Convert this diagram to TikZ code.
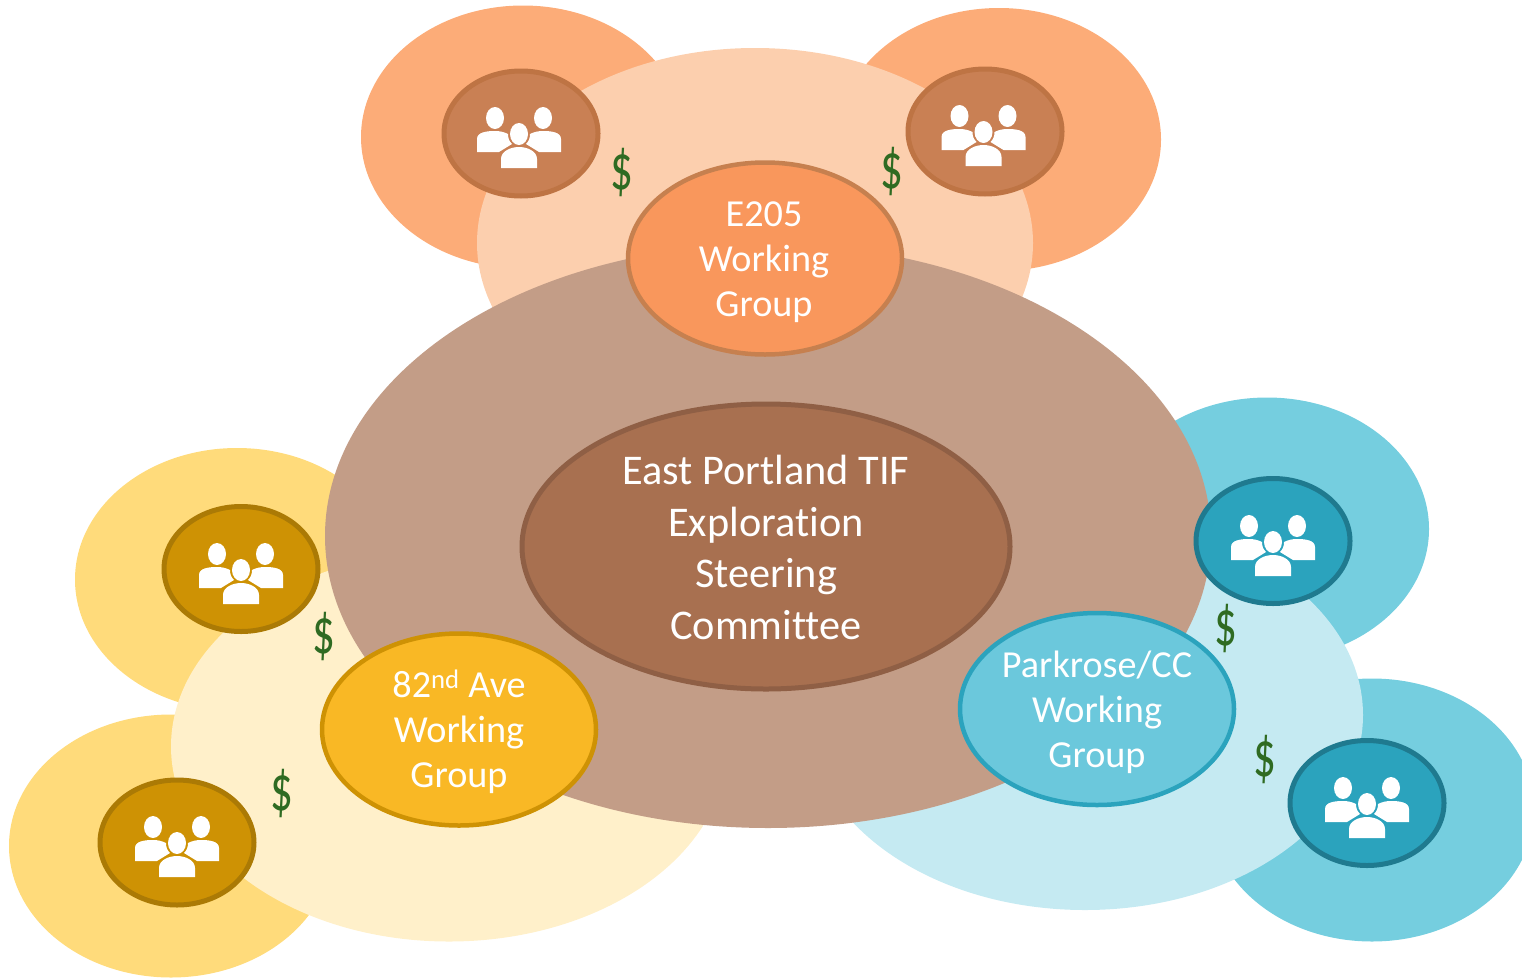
\documentclass[tikz,border=0pt]{standalone}
\usepackage{fontspec}
\usepackage{graphicx}
\setmainfont[Ligatures=NoCommon]{Carlito}
\usetikzlibrary{shapes.geometric}
\definecolor{orangeL}{HTML}{FCAC78}
\definecolor{orangeP}{HTML}{FCCFAE}
\definecolor{brownB}{HTML}{C39D87}
\definecolor{brownC}{HTML}{A87050}
\definecolor{brownD}{HTML}{8F5F45}
\definecolor{orangeM}{HTML}{F9975C}
\definecolor{orangeD}{HTML}{C6804F}
\definecolor{orangeS}{HTML}{C98054}
\definecolor{orangeT}{HTML}{BE7444}
\definecolor{yellowL}{HTML}{FFDB7B}
\definecolor{yellowP}{HTML}{FFF0CA}
\definecolor{yellowM}{HTML}{F9B825}
\definecolor{yellowD}{HTML}{CE9204}
\definecolor{yellowT}{HTML}{AB7A05}
\definecolor{blueL}{HTML}{75CEDF}
\definecolor{blueP}{HTML}{C5EAF2}
\definecolor{blueM}{HTML}{6BC8DC}
\definecolor{blueD}{HTML}{2BA3BD}
\definecolor{blueT}{HTML}{1F7A8F}
\definecolor{dollarc}{HTML}{2F6B22}
\newcommand{\bigdollar}{\scalebox{0.98}[1.42]{\$}}
\tikzset{
  x=1pt,y=-1pt,
  ell/.style={ellipse,inner sep=0pt,outer sep=0pt},
  lobe/.style={ell,minimum width=324pt,minimum height=263pt},
  halo/.style={ell,minimum width=556pt,minimum height=390pt},
  group/.style={ell,line width=4.5pt,minimum width=274pt,minimum height=192pt},
  grouptext/.style={inner sep=0pt,align=center,text=white,font=\fontsize{38.2}{45}\selectfont},
  coretext/.style={inner sep=0pt,align=center,text=white,font=\fontsize{42.3}{51.5}\selectfont},
  team/.style={ell,line width=5pt,minimum width=154pt,minimum height=125pt},
  money/.style={inner sep=0pt,text=dollarc,font=\fontsize{46}{46}\selectfont},
  people/.pic={
    \fill[white] (-26,-15) ellipse [x radius=9,y radius=11];
    \fill[white] (22,-15) ellipse [x radius=9,y radius=11];
    \fill[white] (-2,1) ellipse [x radius=9,y radius=11];
    \fill[white] (-44,19) -- (-44,6) .. controls (-44,-1) and (-34,-2) .. (-26,-2)
      .. controls (-21,-2) and (-17,-1) .. (-13,1) .. controls (-13,5) and (-12,8) .. (-9,11) -- (-22,19) -- cycle;
    \fill[white] (40,19) -- (40,6) .. controls (40,-1) and (30,-2) .. (22,-2)
      .. controls (17,-2) and (13,-1) .. (9,1) .. controls (9,5) and (8,8) .. (5,11) -- (18,19) -- cycle;
    \fill[white] (-20,35) -- (-20,26) .. controls (-20,18) and (-10,14) .. (-2,14)
      .. controls (6,14) and (16,18) .. (16,26) -- (16,35) -- cycle;
  }
}
\begin{document}
\begin{tikzpicture}
\useasboundingbox (0,0) rectangle (1522,977);
\clip (0,0) rectangle (1522,977);
% E205 cluster
\node[lobe,fill=orangeL] (e1) at (523,137) {};
\node[lobe,fill=orangeL] (e2) at (999,139.5) {};
\node[halo,fill=orangeP] (eh) at (755,243) {};
% 82nd cluster
\node[lobe,fill=yellowL] (a1) at (237,579.5) {};
\node[lobe,fill=yellowL] (a2) at (171,846) {};
\node[halo,fill=yellowP] (ah) at (449,746.5) {};
% Parkrose cluster
\node[lobe,fill=blueL] (p1) at (1267,529) {};
\node[lobe,fill=blueL] (p2) at (1372,810) {};
\node[halo,fill=blueP] (ph) at (1085,715) {};
% Steering committee
\node[ell,fill=brownB,minimum width=886pt,minimum height=584pt] (big) at (768,536) {};
\node[ell,fill=brownC,draw=brownD,line width=5pt,minimum width=488pt,minimum height=285pt] (core) at (766,546.5) {};
\node[coretext] (coret) at ([yshift=-1pt]core.center) {East Portland TIF\\Exploration\\Steering\\Committee};
% Working groups
\node[group,fill=orangeM,draw=orangeD] (eg) at (765,258.5) {};
\node[group,fill=yellowM,draw=yellowD] (ag) at (459,729.5) {};
\node[group,fill=blueM,draw=blueD] (pg) at (1097,709) {};
\node[grouptext] (egt) at ([xshift=-1pt,yshift=-4pt]eg.center) {E205\\Working\\Group};
\node[grouptext] (agt) at ([yshift=-2.5pt]ag.center) {82\textsuperscript{nd} Ave\\Working\\Group};
\node[grouptext] (pgt) at ([yshift=-3pt]pg.center) {Parkrose/CC\\Working\\Group};
% Teams
\node[team,fill=orangeS,draw=orangeT] (t1) at (521,133.5) {};
\node[team,fill=orangeS,draw=orangeT] (t2) at (985,131.5) {};
\node[team,fill=yellowD,draw=yellowT] (t3) at (241,569) {};
\node[team,fill=yellowD,draw=yellowT] (t4) at (177,842.5) {};
\node[team,fill=blueD,draw=blueT] (t5) at (1273,541) {};
\node[team,fill=blueD,draw=blueT] (t6) at (1367,803) {};
\pic at ([yshift=0.5pt]t1.center) {people};
\pic at ([xshift=0.5pt,yshift=0.5pt]t2.center) {people};
\pic at ([xshift=2pt]t3.center) {people};
\pic at ([xshift=2pt,yshift=0.5pt]t4.center) {people};
\pic at ([xshift=2pt]t5.center) {people};
\pic at ([xshift=2pt]t6.center) {people};
% Dollars
\node[money] (d1) at (621.5,172) {\bigdollar};
\node[money] (d2) at (891.5,171) {\bigdollar};
\node[money] (d3) at (323.5,636) {\bigdollar};
\node[money] (d4) at (281.5,793.5) {\bigdollar};
\node[money] (d5) at (1225.5,628) {\bigdollar};
\node[money] (d6) at (1264.5,759) {\bigdollar};
\end{tikzpicture}
\end{document}
